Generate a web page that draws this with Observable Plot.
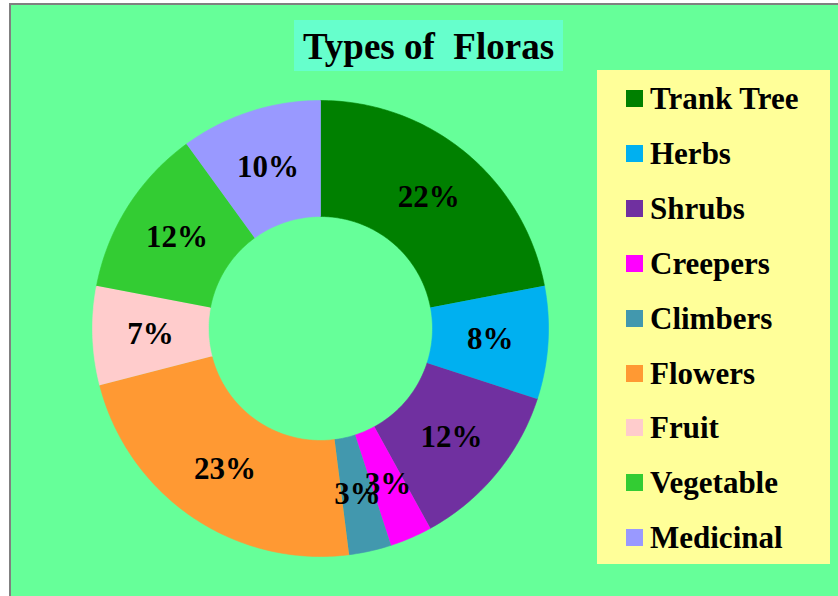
<!DOCTYPE html>
<html>
<head>
<meta charset="utf-8">
<script src="https://cdn.jsdelivr.net/npm/d3@7"></script>
<script src="https://cdn.jsdelivr.net/npm/@observablehq/plot@0.6"></script>
<style>
  html, body { margin: 0; padding: 0; background: #ffffff; }
  #wrap { position: relative; width: 838px; height: 596px; overflow: hidden; }
  #frame { position: absolute; left: 9px; top: 3px; width: 840px; height: 600px;
           border: 2px solid #808080; background: #66FF99; }
  #chart { position: absolute; left: 0; top: 0; }
  #title { position: absolute; left: 294px; top: 20px; width: 269px; height: 51px;
           background: #66FFCC; box-sizing: border-box; padding-top: 8px;
           font-family: "Liberation Serif", "Times New Roman", serif; font-weight: bold;
           font-size: 37px; line-height: 37px; text-align: center; white-space: pre; color: #000; }
  #legend { position: absolute; left: 597px; top: 70px; width: 233px; height: 494px;
            background: #FFFF99; }
  .row { position: absolute; left: 29px; height: 17px; }
  .sw { position: absolute; left: 0; top: 0; width: 17px; height: 17px; }
  .lt { position: absolute; left: 24px; top: -7px; font-family: "Liberation Serif", "Times New Roman", serif;
        font-weight: bold; font-size: 31px; line-height: 31px; white-space: pre; color: #000; }
</style>
</head>
<body>
<div id="wrap">
  <div id="frame"></div>
  <div id="chart"></div>
  <div id="title"></div>
  <div id="legend"></div>
</div>
<script>
const titleText = "Types of  Floras";
const categories = ["Trank Tree", "Herbs", "Shrubs", "Creepers", "Climbers", "Flowers", "Fruit", "Vegetable", "Medicinal"];
const values = [22, 8, 12, 3, 3, 23, 7, 12, 10];
const colors = ["#008000", "#00B0F0", "#7030A0", "#FF00FF", "#4298AE", "#FF9933", "#FFCCCC", "#33CC33", "#9999FF"];
const labels = ["22%", "8%", "12%", "3%", "3%", "23%", "7%", "12%", "10%"];

// geometry (in units of outer radius)
const W = 838, H = 596;
const cx = 320, cy = 328, R = 228; // pixel placement of donut center / radius
const inner = 112 / R;
const labelR = (1 + inner) / 2;

const total = d3.sum(values);
const slices = [];
const labelData = [];
let acc = 0;
categories.forEach((name, i) => {
  const a0 = acc / total * 2 * Math.PI;
  acc += values[i];
  const a1 = acc / total * 2 * Math.PI;
  const n = Math.max(8, Math.ceil((a1 - a0) / (2 * Math.PI) * 360));
  for (let k = 0; k <= n; k++) {
    const a = a0 + (a1 - a0) * k / n;
    slices.push({name, x: Math.sin(a), y: Math.cos(a)});
  }
  for (let k = n; k >= 0; k--) {
    const a = a0 + (a1 - a0) * k / n;
    slices.push({name, x: inner * Math.sin(a), y: inner * Math.cos(a)});
  }
  const am = (a0 + a1) / 2;
  labelData.push({name, label: labels[i], x: labelR * Math.sin(am), y: labelR * Math.cos(am)});
});

const plot = Plot.plot({
  width: W,
  height: H,
  margin: 0,
  style: {background: "transparent", overflow: "visible"},
  x: {domain: [-cx / R, (W - cx) / R], axis: null},
  y: {domain: [-(H - cy) / R, cy / R], axis: null},
  color: {type: "ordinal", domain: categories, range: colors},
  marks: [
    Plot.line(slices, {x: "x", y: "y", z: "name", fill: "name", stroke: "name", strokeWidth: 0.6, curve: "linear"}),
    Plot.text(labelData, {x: "x", y: "y", text: "label", fontSize: 31, fontWeight: "bold",
      fontFamily: "Liberation Serif, Times New Roman, serif", fill: "#000"})
  ]
});
document.getElementById("chart").appendChild(plot);

document.getElementById("title").textContent = titleText;

const legend = document.getElementById("legend");
categories.forEach((name, i) => {
  const row = document.createElement("div");
  row.className = "row";
  row.style.top = (20 + 54.9 * i) + "px";
  const sw = document.createElement("div");
  sw.className = "sw";
  sw.style.background = colors[i];
  const lt = document.createElement("div");
  lt.className = "lt";
  lt.textContent = name;
  row.appendChild(sw);
  row.appendChild(lt);
  legend.appendChild(row);
});
</script>
</body>
</html>
